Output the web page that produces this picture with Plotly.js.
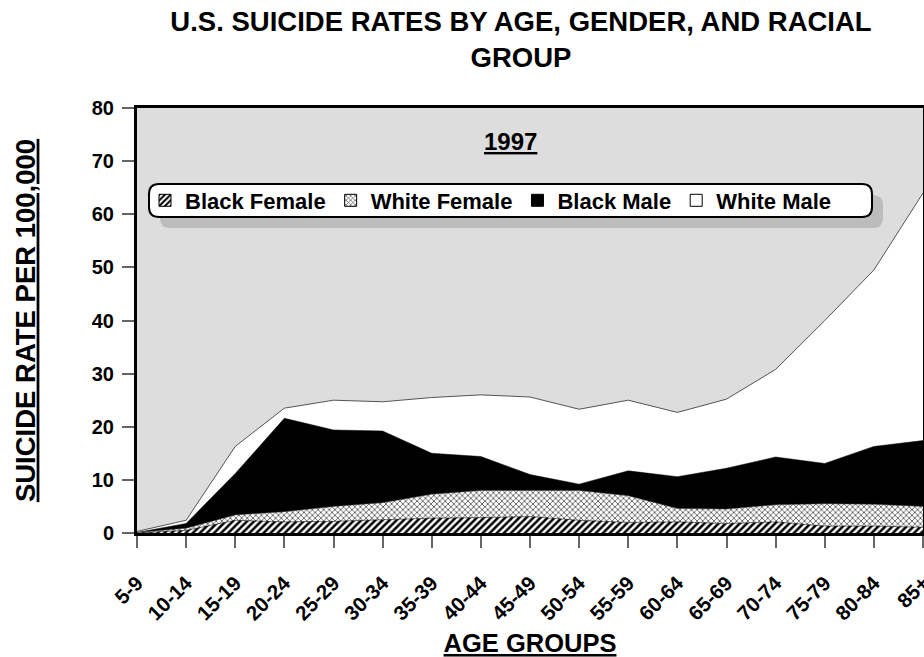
<!DOCTYPE html>
<html>
<head>
<meta charset="utf-8">
<script src="https://cdn.plot.ly/plotly-3.0.1.min.js"></script>
<style>html,body{margin:0;padding:0;background:#fff;}#chart{width:924px;height:657px;}</style>
</head>
<body>
<div id="chart"></div>
<script>
// ---- data ----
const ageGroups = ['5-9','10-14','15-19','20-24','25-29','30-34','35-39','40-44','45-49','50-54','55-59','60-64','65-69','70-74','75-79','80-84','85+'];
const whiteMale   = [0.3, 2.4, 16.3, 23.5, 25.0, 24.7, 25.5, 26.0, 25.6, 23.3, 25.0, 22.7, 25.2, 30.8, 40.0, 49.5, 64.0];
const blackMale   = [0.1, 1.8, 11.2, 21.6, 19.4, 19.2, 15.0, 14.4, 11.0, 9.2, 11.7, 10.6, 12.2, 14.3, 13.1, 16.3, 17.4];
const whiteFemale = [0.1, 0.9, 3.4, 4.0, 5.0, 5.7, 7.3, 8.0, 8.0, 8.0, 7.0, 4.6, 4.5, 5.3, 5.5, 5.4, 5.0];
const blackFemale = [0.0, 0.5, 2.4, 2.1, 2.2, 2.5, 2.8, 2.9, 3.1, 2.4, 2.0, 2.1, 1.8, 2.1, 1.3, 1.3, 1.1];
const seriesNames = ['Black Female','White Female','Black Male','White Male'];
const yearLabel = '1997';
const yTickVals = [0,10,20,30,40,50,60,70,80];

// ---- layout helpers ----
const W = 924, H = 657;
const M = {l:137, r:1, t:108, b:124};
const PW = W - M.l - M.r, PH = H - M.t - M.b;
const FONT = 'Arial, "Liberation Sans", sans-serif';
function px(x){ return (x - M.l) / PW; }
function py(y){ return (M.t + PH - y) / PH; }
function roundRect(x0, y0, x1, y1, r){
  const pt = (x, y) => px(x).toFixed(5) + ',' + py(y).toFixed(5);
  return 'M' + pt(x0 + r, y0) + ' L' + pt(x1 - r, y0) + ' Q' + pt(x1, y0) + ' ' + pt(x1, y0 + r) +
         ' L' + pt(x1, y1 - r) + ' Q' + pt(x1, y1) + ' ' + pt(x1 - r, y1) +
         ' L' + pt(x0 + r, y1) + ' Q' + pt(x0, y1) + ' ' + pt(x0, y1 - r) +
         ' L' + pt(x0, y0 + r) + ' Q' + pt(x0, y0) + ' ' + pt(x0 + r, y0) + ' Z';
}

const hatchBF = {shape:'/', fgcolor:'#000000', bgcolor:'#ffffff', size:5, solidity:0.5};
const hatchWF = {shape:'x', fgcolor:'#222222', bgcolor:'#ffffff', size:4, solidity:0.3};

// legend-only entries: one category with no value, so no bar is drawn
const legendX = [ageGroups[0]];
const legendY = [null];

const traces = [
  {type:'scatter', mode:'lines', name:seriesNames[3], x:ageGroups, y:whiteMale, fill:'tozeroy',
   fillcolor:'#ffffff', line:{color:'#555555', width:1}, showlegend:false, hoverinfo:'skip'},
  {type:'scatter', mode:'lines', name:seriesNames[2], x:ageGroups, y:blackMale, fill:'tozeroy',
   fillcolor:'#000000', line:{color:'#000000', width:0.5}, showlegend:false, hoverinfo:'skip'},
  {type:'scatter', mode:'lines', name:seriesNames[1], x:ageGroups, y:whiteFemale, fill:'tozeroy',
   fillcolor:'#ffffff', fillpattern:hatchWF, line:{color:'#444444', width:0.5}, showlegend:false, hoverinfo:'skip'},
  {type:'scatter', mode:'lines', name:seriesNames[0], x:ageGroups, y:blackFemale, fill:'tozeroy',
   fillcolor:'#ffffff', fillpattern:hatchBF, line:{color:'#000000', width:0.5}, showlegend:false, hoverinfo:'skip'},
  {type:'bar', name:seriesNames[0], x:legendX, y:legendY, showlegend:true, marker:{color:'#ffffff', pattern:hatchBF, line:{color:'#000', width:1}}},
  {type:'bar', name:seriesNames[1], x:legendX, y:legendY, showlegend:true, marker:{color:'#ffffff', pattern:hatchWF, line:{color:'#000', width:1}}},
  {type:'bar', name:seriesNames[2], x:legendX, y:legendY, showlegend:true, marker:{color:'#000000', line:{color:'#000', width:1}}},
  {type:'bar', name:seriesNames[3], x:legendX, y:legendY, showlegend:true, marker:{color:'#ffffff', line:{color:'#000', width:1}}}
];

const layout = {
  width:W, height:H,
  margin:M,
  paper_bgcolor:'#ffffff',
  plot_bgcolor:'#dddddd',
  font:{family:FONT, color:'#000', size:18, weight:'bold'},
  title:{
    text:'U.S. SUICIDE RATES BY AGE, GENDER, AND RACIAL<br>GROUP',
    font:{family:FONT, size:27.5, weight:'bold', color:'#000'},
    x:px(521), xanchor:'center', xref:'paper',
    y:1 - 31/H, yanchor:'top', yref:'container'
  },
  xaxis:{
    type:'category', range:[0, ageGroups.length - 1], autorange:false,
    showline:true, linecolor:'#000', linewidth:3, mirror:true,
    ticks:'outside', ticklen:12, tickwidth:2, tickcolor:'#666',
    tickangle:-45, tickfont:{family:FONT, size:20.5, weight:'bold', color:'#000'},
    ticklabelstandoff:15,
    showgrid:false, zeroline:false, fixedrange:true,
    title:{text:'AGE GROUPS', font:{family:FONT, size:25.5, weight:'bold', color:'#000', lineposition:'under'}, standoff:18}
  },
  yaxis:{
    range:[0,80], autorange:false, tickvals:yTickVals,
    showline:true, linecolor:'#000', linewidth:3, mirror:true,
    ticks:'outside', ticklen:12, tickwidth:2, tickcolor:'#666',
    tickfont:{family:FONT, size:20, weight:'bold', color:'#000'},
    ticklabelstandoff:4,
    showgrid:false, zeroline:false, fixedrange:true,
    title:{text:'SUICIDE RATE PER 100,000', font:{family:FONT, size:27.5, weight:'bold', color:'#000', lineposition:'under'}, standoff:49}
  },
  showlegend:true,
  legend:{
    orientation:'h', x:px(145), y:py(200.5), xanchor:'left', yanchor:'middle',
    bgcolor:'rgba(0,0,0,0)', borderwidth:0, traceorder:'normal',
    font:{family:FONT, size:22, weight:'bold', color:'#000'},
    itemclick:false, itemdoubleclick:false
  },
  shapes:[
    {type:'path', xref:'paper', yref:'paper', layer:'below', path:roundRect(160, 195, 883, 228, 10),
     fillcolor:'#bcbcbc', line:{width:0}},
    {type:'path', xref:'paper', yref:'paper', layer:'below', path:roundRect(149, 184, 872, 217, 10),
     fillcolor:'#ffffff', line:{color:'#000', width:2}}
  ],
  annotations:[
    {text:yearLabel, xref:'paper', yref:'paper', x:px(510), y:py(141), xanchor:'center', yanchor:'middle',
     showarrow:false, font:{family:FONT, size:24, weight:'bold', color:'#000', lineposition:'under'}}
  ]
};

Plotly.newPlot('chart', traces, layout, {displayModeBar:false, staticPlot:true});
</script>
</body>
</html>
